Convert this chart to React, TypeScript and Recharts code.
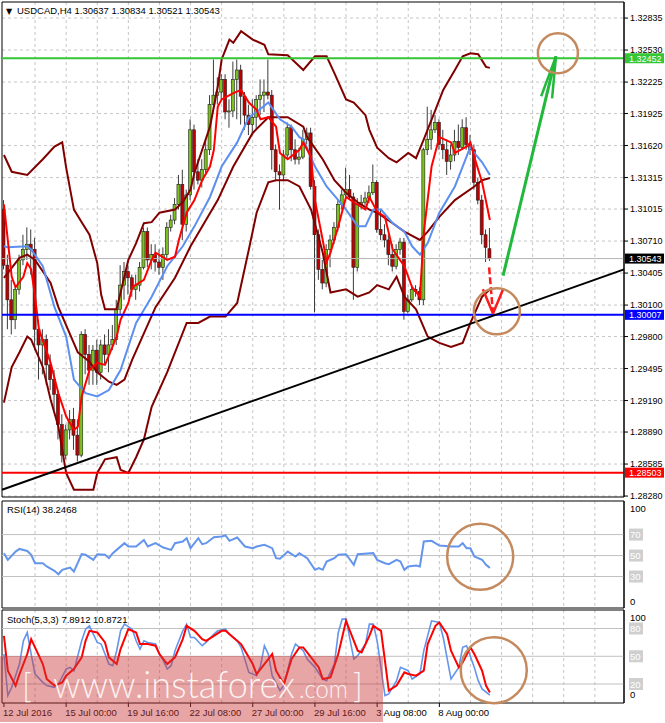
import React from 'react';
import {
  ComposedChart,
  Bar,
  Line,
  XAxis,
  YAxis,
  CartesianGrid,
  ReferenceLine,
  ReferenceDot,
  ReferenceArea,
} from 'recharts';

// ---------- instrument ----------
const symbol = 'USDCAD,H4';

// ---------- candles (bar 0 = 12 Jul 2016 08:00, H4) ----------
const opens = [
  1.3101, 1.3048, 1.3015, 1.2996, 1.3025, 1.3053, 1.3063, 1.3068, 1.3063, 1.2987,
  1.2972, 1.2977, 1.2953, 1.2939, 1.2925, 1.2896, 1.2867, 1.2891, 1.2901, 1.2886,
  1.2867, 1.2982, 1.2963, 1.2948, 1.2967, 1.2946, 1.2972, 1.2963, 1.2972, 1.2977,
  1.3006, 1.3029, 1.3042, 1.3036, 1.3025, 1.3029, 1.3046, 1.308, 1.3053, 1.3058,
  1.3051, 1.3046, 1.3058, 1.3084, 1.3091, 1.3106, 1.3125, 1.3087, 1.3115, 1.3177,
  1.3137, 1.3129, 1.3139, 1.3158, 1.3201, 1.321, 1.3213, 1.3225, 1.3194, 1.3195,
  1.3225, 1.3234, 1.3209, 1.3191, 1.3182, 1.3189, 1.3206, 1.321, 1.3213, 1.321,
  1.3158, 1.3137, 1.3134, 1.3153, 1.3179, 1.3158, 1.3149, 1.3151, 1.3168, 1.3174,
  1.3123, 1.3077, 1.3044, 1.3031, 1.3063, 1.3072, 1.3084, 1.3106, 1.3115, 1.312,
  1.3113, 1.3046, 1.3106, 1.3108, 1.3112, 1.3117, 1.3127, 1.3082, 1.3077, 1.3072,
  1.3058, 1.3047, 1.3063, 1.307, 1.3004, 1.3015, 1.3025, 1.3023, 1.3015, 1.3158,
  1.3168, 1.3177, 1.3184, 1.3163, 1.3158, 1.3147, 1.3153, 1.3166, 1.316, 1.3179,
  1.3163, 1.3158, 1.3127, 1.311, 1.3077, 1.30637,
];
const highs = [
  1.311, 1.3058, 1.3034, 1.3029, 1.3058, 1.3077, 1.3084, 1.3082, 1.3074, 1.2996,
  1.2987, 1.2982, 1.2963, 1.2948, 1.2929, 1.2906, 1.2896, 1.291, 1.2912, 1.2901,
  1.2985, 1.2987, 1.2972, 1.2972, 1.2977, 1.2977, 1.2982, 1.2987, 1.2991, 1.3015,
  1.3048, 1.3051, 1.3048, 1.3039, 1.3039, 1.3051, 1.3084, 1.3084, 1.3068, 1.3068,
  1.3063, 1.3065, 1.3089, 1.3096, 1.3112, 1.3134, 1.3139, 1.312, 1.3187, 1.3182,
  1.3149, 1.3149, 1.3168, 1.321, 1.3244, 1.3227, 1.323, 1.323, 1.3206, 1.3242,
  1.3244, 1.3239, 1.3213, 1.3201, 1.3206, 1.321, 1.3225, 1.3225, 1.3244, 1.3215,
  1.3163, 1.3144, 1.3158, 1.3184, 1.3182, 1.3168, 1.316, 1.3177, 1.3179, 1.3179,
  1.3129, 1.3082, 1.3053, 1.3068, 1.3077, 1.3089, 1.311, 1.312, 1.3141, 1.3134,
  1.3117, 1.3112, 1.3115, 1.3118, 1.3124, 1.3144, 1.3129, 1.3101, 1.3087, 1.3077,
  1.3068, 1.3068, 1.3074, 1.3074, 1.302, 1.3029, 1.3029, 1.3027, 1.316, 1.3199,
  1.3196, 1.3191, 1.3187, 1.3177, 1.3168, 1.3163, 1.3177, 1.3182, 1.3187, 1.3189,
  1.3172, 1.3163, 1.3131, 1.3115, 1.3082, 1.30834,
];
const lows = [
  1.3044, 1.2987, 1.2982, 1.2987, 1.302, 1.3048, 1.3053, 1.3039, 1.2967, 1.2939,
  1.2944, 1.2934, 1.2929, 1.291, 1.2882, 1.286, 1.2863, 1.2882, 1.2872, 1.2861,
  1.2865, 1.2944, 1.2934, 1.2934, 1.2934, 1.2939, 1.2953, 1.2946, 1.2967, 1.2972,
  1.3001, 1.3015, 1.302, 1.3018, 1.3015, 1.3023, 1.3044, 1.3046, 1.3044, 1.3042,
  1.3039, 1.3034, 1.3053, 1.308, 1.3087, 1.3101, 1.3072, 1.308, 1.311, 1.312,
  1.3125, 1.3122, 1.3134, 1.3153, 1.3196, 1.3201, 1.3206, 1.3187, 1.3179, 1.3189,
  1.3187, 1.3182, 1.3177, 1.3172, 1.3172, 1.3177, 1.3191, 1.3194, 1.3206, 1.3139,
  1.3129, 1.3101, 1.3128, 1.315, 1.3147, 1.3144, 1.3144, 1.3149, 1.3163, 1.312,
  1.3003, 1.3034, 1.3025, 1.3027, 1.3046, 1.3068, 1.308, 1.3101, 1.3112, 1.311,
  1.3015, 1.3042, 1.3101, 1.3105, 1.3107, 1.3115, 1.3079, 1.3072, 1.3065, 1.3048,
  1.3042, 1.3044, 1.3058, 1.2996, 1.3002, 1.3013, 1.3018, 1.301, 1.301, 1.3153,
  1.3158, 1.3174, 1.3158, 1.3149, 1.3134, 1.3139, 1.3147, 1.3153, 1.3158, 1.3158,
  1.3153, 1.312, 1.3106, 1.3068, 1.3051, 1.30521,
];
const closes = [
  1.3048, 1.3015, 1.2996, 1.3025, 1.3053, 1.3063, 1.3068, 1.3063, 1.2987, 1.2972,
  1.2977, 1.2953, 1.2939, 1.2925, 1.2896, 1.2867, 1.2891, 1.2901, 1.2886, 1.2867,
  1.2982, 1.2963, 1.2948, 1.2967, 1.2946, 1.2972, 1.2963, 1.2972, 1.2977, 1.3006,
  1.3029, 1.3042, 1.3036, 1.3025, 1.3029, 1.3046, 1.308, 1.3053, 1.3058, 1.3051,
  1.3046, 1.3058, 1.3084, 1.3091, 1.3106, 1.3125, 1.3087, 1.3115, 1.3177, 1.3137,
  1.3129, 1.3139, 1.3158, 1.3201, 1.321, 1.3213, 1.3225, 1.3194, 1.3195, 1.3225,
  1.3234, 1.3209, 1.3191, 1.3182, 1.3189, 1.3206, 1.321, 1.3213, 1.321, 1.3158,
  1.3137, 1.3134, 1.3153, 1.3179, 1.3158, 1.3149, 1.3151, 1.3168, 1.3174, 1.3123,
  1.3077, 1.3044, 1.3031, 1.3063, 1.3072, 1.3084, 1.3106, 1.3115, 1.312, 1.3113,
  1.3046, 1.3106, 1.3108, 1.3112, 1.3117, 1.3127, 1.3082, 1.3077, 1.3072, 1.3058,
  1.3047, 1.3063, 1.307, 1.3004, 1.3015, 1.3025, 1.3023, 1.3015, 1.3158, 1.3168,
  1.3177, 1.3184, 1.3163, 1.3158, 1.3147, 1.3153, 1.3166, 1.316, 1.3179, 1.3163,
  1.3158, 1.3127, 1.311, 1.3077, 1.3065, 1.30543,
];

// ---------- indicator lines, [bar index, value] ----------
const upperBand = [
  [0, 1.3153], [2, 1.3137], [6, 1.3134], [10, 1.3149], [13, 1.3161], [15, 1.3165], [16, 1.3141],
  [18, 1.3101], [20, 1.3089], [22, 1.3077], [24, 1.305], [25, 1.302], [26, 1.3006], [29, 1.3006],
  [30, 1.3022], [32, 1.3053], [34, 1.3069], [36, 1.3088], [38, 1.3089], [40, 1.3098], [44, 1.3101],
  [46, 1.3108], [48, 1.312], [49, 1.3136], [51, 1.3158], [53, 1.318], [55, 1.3218], [56, 1.3244],
  [58, 1.3263], [59, 1.326], [61, 1.3271], [64, 1.3263], [67, 1.3258], [68, 1.3249], [73, 1.3248],
  [77, 1.3234], [80, 1.3247], [83, 1.3247], [85, 1.3231], [88, 1.3206], [90, 1.3203], [93, 1.3191],
  [94, 1.3177], [96, 1.316], [99, 1.315], [101, 1.3146], [104, 1.3155], [106, 1.315], [108, 1.3168],
  [111, 1.3196], [113, 1.3215], [116, 1.3234], [118, 1.3247], [120, 1.325], [122, 1.3249],
  [124, 1.3237], [125, 1.3236],
];
const middleBand = [
  [0, 1.3036], [4, 1.3055], [6, 1.3058], [8, 1.3053], [12, 1.3031], [14, 1.3008], [19, 1.2965],
  [22, 1.2956], [24, 1.2946], [27, 1.2937], [29, 1.2934], [31, 1.2939], [33, 1.2958], [39, 1.3008],
  [44, 1.3036], [48, 1.3066], [55, 1.311], [59, 1.3142], [64, 1.3174], [68, 1.3189], [73, 1.3189],
  [77, 1.318], [78, 1.317], [82, 1.3149], [85, 1.3129], [88, 1.3117], [91, 1.3108], [94, 1.3101],
  [96, 1.3098], [100, 1.3088], [103, 1.308], [107, 1.3072], [109, 1.308], [112, 1.3094],
  [116, 1.311], [121, 1.3123], [123, 1.3129], [125, 1.3131],
];
const lowerBand = [
  [0, 1.2917], [2, 1.2951], [4, 1.2965], [6, 1.298], [7, 1.2977], [10, 1.2951], [12, 1.292],
  [14, 1.2894], [16, 1.285], [18, 1.2834], [23, 1.2834], [24, 1.285], [26, 1.2863], [29, 1.2865],
  [30, 1.2853], [32, 1.285], [34, 1.2865], [36, 1.2882], [38, 1.2913], [42, 1.2946], [47, 1.2993],
  [50, 1.2993], [53, 1.2999], [57, 1.2999], [60, 1.3012], [63, 1.3063], [65, 1.3098], [68, 1.3127],
  [70, 1.3129], [73, 1.3129], [76, 1.3123], [79, 1.3101], [82, 1.306], [84, 1.3022], [88, 1.3025],
  [91, 1.3018], [94, 1.3022], [96, 1.3029], [99, 1.3025], [101, 1.3037], [103, 1.3018],
  [106, 1.3006], [109, 1.298], [112, 1.2974], [115, 1.297], [118, 1.2974], [120, 1.2993],
  [123, 1.3018], [125, 1.3025],
];
const blueMA = [
  [0, 1.3066], [1, 1.3065], [6, 1.3066], [7, 1.3063], [10, 1.3047], [13, 1.3008], [16, 1.298],
  [18, 1.2939], [21, 1.2926], [24, 1.2923], [27, 1.2929], [30, 1.2948], [34, 1.2993], [38, 1.3018],
  [42, 1.3047], [46, 1.3066], [49, 1.3085], [53, 1.3113], [56, 1.3142], [60, 1.3165], [63, 1.3189],
  [65, 1.3194], [68, 1.3203], [71, 1.3187], [74, 1.318], [76, 1.317], [77, 1.3168], [80, 1.3142],
  [83, 1.3123], [86, 1.311], [88, 1.3101], [91, 1.3085], [93, 1.3085], [95, 1.3101], [97, 1.3101],
  [100, 1.3088], [103, 1.308], [105, 1.3066], [107, 1.3058], [109, 1.3069], [112, 1.3098],
  [116, 1.3123], [118, 1.3142], [120, 1.3161], [121, 1.3155], [123, 1.3146], [125, 1.3134],
];
const redMA = [
  [0, 1.3106], [2, 1.3037], [3, 1.3027], [5, 1.3037], [6, 1.305], [7, 1.3044], [8, 1.3018],
  [9, 1.2987], [12, 1.2955], [14, 1.2926], [16, 1.2904], [18, 1.2891], [19, 1.2894], [20, 1.2923],
  [22, 1.2948], [24, 1.2955], [26, 1.2953], [29, 1.298], [30, 1.2996], [32, 1.3012], [33, 1.3027],
  [36, 1.3034], [38, 1.3053], [39, 1.306], [42, 1.3053], [44, 1.3056], [45, 1.3072], [47, 1.3098],
  [49, 1.311], [51, 1.3129], [53, 1.3142], [54, 1.3158], [55, 1.3199], [56, 1.3206], [59, 1.3212],
  [61, 1.3215], [63, 1.3203], [65, 1.3196], [66, 1.3187], [68, 1.3189], [70, 1.318], [71, 1.3155],
  [73, 1.3149], [76, 1.3158], [77, 1.3165], [79, 1.3151], [80, 1.311], [82, 1.3072], [83, 1.3051],
  [84, 1.306], [86, 1.3085], [88, 1.3113], [90, 1.3108], [93, 1.3101], [94, 1.3113], [96, 1.3099],
  [98, 1.3094], [100, 1.3063], [103, 1.3047], [105, 1.3027], [107, 1.3018], [108, 1.3079],
  [110, 1.3142], [112, 1.317], [115, 1.3165], [116, 1.3155], [119, 1.3161], [120, 1.3165],
  [121, 1.3151], [123, 1.3127], [125, 1.3091],
];

// ---------- horizontal levels ----------
const levelGreen = 1.32452;
const levelBlue = 1.30007;
const levelRed = 1.28503;
const trendLine = [
  [-0.5, 1.2834],
  [159.5, 1.3044],
];

// ---------- annotations ----------
const greenArrow = [[128.4, 1.3038], [142, 1.3247]];
const greenArrowHeadA = [[138.2, 1.3209], [142, 1.3247]];
const greenArrowHeadB = [[141.0, 1.3207], [142, 1.3247]];
const redArrow = [[124.8, 1.3046], [125.8, 1.3002]];
const redArrowHeadA = [[123.2, 1.3025], [125.8, 1.3002]];
const redArrowHeadB = [[128.4, 1.3025], [125.8, 1.3002]];
const circleMain = [126.8, 1.3004];
const circleTop = [142.5, 1.325];
const circleRsi = [122.5, 48.8];
const circleStoch = [126, 35];

// ---------- RSI(14) ----------
const rsi = [
  [0, 52.3], [1, 45.9], [3, 53.8], [4, 56.3], [6, 54.4], [7, 50.7], [8, 42.7], [10, 42.7], [11, 39.6],
  [13, 35.4], [14, 32.2], [15, 36.4], [17, 38.6], [18, 34.8], [20, 51.3], [21, 50.7], [23, 45.9],
  [24, 51.3], [26, 50.7], [27, 47.5], [28, 52.3], [29, 55.4], [31, 61.8], [32, 58.6], [34, 58.6],
  [36, 64.9], [37, 58.6], [39, 61.8], [41, 57.6], [43, 55.4], [44, 61.8], [46, 63.4], [47, 66.5],
  [48, 57.0], [50, 66.5], [51, 60.8], [52, 61.8], [54, 67.5], [56, 68.1], [57, 69.1], [58, 64.0],
  [60, 67.2], [62, 58.6], [64, 57.0], [65, 58.6], [67, 60.2], [69, 57.0], [70, 47.5], [71, 46.9],
  [73, 53.8], [75, 49.1], [76, 52.3], [78, 47.5], [80, 36.4], [81, 38.0], [82, 36.4], [83, 44.3],
  [85, 47.5], [86, 50.7], [88, 51.3], [90, 41.1], [91, 51.3], [95, 52.3], [96, 45.9], [98, 42.7],
  [99, 41.8], [101, 45.9], [102, 44.3], [103, 36.4], [104, 39.6], [106, 40.5], [107, 39.6],
  [108, 63.4], [110, 64.0], [112, 59.5], [115, 58.6], [117, 58.6], [118, 61.8], [119, 57.0],
  [120, 57.0], [121, 49.1], [123, 46.0], [124, 41.1], [125, 38.2468],
];
const rsiTicks = [0, 30, 50, 70, 100];
const rsiLevels = [30, 50, 70];

// ---------- Stochastic(5,3,3) ----------
const stochMain = [
  [0, 52.4], [1, 7.5], [2, 16.5], [4, 41.6], [5, 66.7], [6, 75.7], [7, 52.4], [8, 30.8], [10, 21.8],
  [11, 18.3], [13, 16.5], [14, 20.0], [16, 36.2], [17, 38.0], [18, 34.4], [20, 66.7], [21, 79.3],
  [22, 82.9], [23, 73.9], [24, 64.9], [25, 63.2], [26, 52.4], [27, 41.6], [28, 39.8], [29, 56.0],
  [30, 77.5], [31, 84.7], [33, 79.3], [34, 66.7], [35, 57.8], [36, 66.7], [37, 64.9], [39, 63.2],
  [40, 52.4], [41, 45.2], [42, 36.2], [43, 39.8], [44, 56.0], [46, 77.5], [47, 84.7], [48, 70.3],
  [49, 70.3], [51, 61.4], [52, 64.9], [54, 73.9], [55, 77.5], [57, 79.3], [58, 73.9], [60, 66.7],
  [61, 59.6], [63, 32.6], [65, 29.0], [66, 39.8], [67, 61.4], [68, 52.4], [69, 29.0], [71, 12.9],
  [72, 18.3], [74, 52.4], [75, 63.2], [77, 56.0], [78, 47.0], [80, 38.0], [82, 25.4], [83, 23.6],
  [85, 41.6], [86, 75.7], [87, 90.1], [88, 90.1], [90, 47.0], [91, 50.6], [93, 63.2], [94, 84.7],
  [95, 84.7], [96, 66.7], [98, 7.5], [99, 9.3], [101, 23.6], [102, 38.0], [104, 34.4], [105, 25.4],
  [107, 30.8], [108, 56.0], [110, 88.3], [112, 86.5], [113, 70.3], [115, 25.4], [117, 38.0],
  [118, 59.6], [119, 61.4], [121, 38.0], [122, 23.6], [123, 14.7], [125, 7.8912],
];
const stochSignal = [
  [0, 72.1], [1, 34.4], [3, 18.3], [4, 30.8], [6, 52.4], [7, 68.5], [8, 59.6], [10, 41.6], [11, 25.4],
  [13, 18.3], [15, 21.8], [16, 29.0], [18, 36.2], [20, 48.8], [21, 66.7], [22, 77.5], [24, 75.7],
  [26, 64.9], [27, 48.8], [29, 41.6], [30, 57.8], [32, 79.3], [34, 75.7], [35, 63.2], [37, 63.2],
  [39, 61.4], [40, 52.4], [42, 41.6], [44, 48.8], [46, 68.5], [47, 82.9], [49, 77.5], [51, 68.5],
  [52, 66.7], [54, 72.1], [56, 77.5], [57, 77.5], [59, 70.3], [61, 63.2], [62, 56.0], [64, 41.6],
  [65, 30.8], [67, 41.6], [69, 52.4], [70, 34.4], [72, 20.0], [74, 47.0], [76, 59.6], [77, 59.6],
  [79, 48.8], [81, 38.0], [82, 25.4], [84, 27.2], [86, 52.4], [88, 88.3], [89, 77.5], [91, 56.0],
  [92, 54.2], [94, 72.1], [95, 82.9], [97, 77.5], [98, 45.2], [99, 12.9], [101, 18.3], [103, 32.6],
  [104, 30.8], [106, 29.0], [108, 34.4], [109, 63.2], [111, 82.9], [112, 86.5], [114, 73.9],
  [115, 56.0], [117, 38.0], [118, 43.4], [120, 59.6], [121, 52.4], [123, 34.4], [124, 18.3],
  [125, 10.8721],
];
const stochTicks = [0, 20, 50, 80, 100];
const stochLevels = [20, 50, 80];

// ---------- axes ----------
const priceTicks = [
  1.32835, 1.3253, 1.32225, 1.31925, 1.3162, 1.31315, 1.31015, 1.3071, 1.30405, 1.301, 1.298,
  1.29495, 1.2919, 1.2889, 1.28585, 1.2828,
];
const gridIdx = [8, 16, 24, 32, 40, 48, 56, 64, 72, 80, 88, 96, 104, 112, 120, 128, 136, 144, 152];
const dateTickIdx = [0, 16, 32, 48, 64, 80, 96, 112];
const dateLabels = [
  '12 Jul 2016', '15 Jul 00:00', '19 Jul 16:00', '22 Jul 08:00',
  '27 Jul 00:00', '29 Jul 16:00', '3 Aug 08:00', '8 Aug 00:00',
];

// ---------- styling ----------
const FONT = '"Liberation Sans", Arial, sans-serif';
const W = 665;
const AXIS_W = 41;
const X_DOMAIN: [number, number] = [-0.5, 159.5];
const PRICE_DOMAIN: [number, number] = [1.28271, 1.32988];
const RSI_DOMAIN: [number, number] = [0, 102];
const STOCH_DOMAIN: [number, number] = [-0.5, 100];
const CIRCLE = '#c48a5e';

const toRows = (pts: number[][]) => pts.map(([i, v]) => ({ i, v }));
const seg = (pts: number[][]) => pts.map(([x, y]) => ({ x, y }));

const candleRows = opens.map((o, i) => ({
  i,
  o,
  h: highs[i],
  l: lows[i],
  c: closes[i],
  range: [lows[i], highs[i]],
}));

function Candle(props: any) {
  const { x, y, width, height, payload } = props;
  if (!payload || x == null || y == null) return null;
  const { o, c, h, l } = payload;
  const topY = Math.min(y, y + height);
  const botY = Math.max(y, y + height);
  const span = h - l || 1e-9;
  const toY = (v: number) => topY + ((h - v) / span) * (botY - topY);
  const cx = x + width / 2;
  const yo = toY(o);
  const yc = toY(c);
  const bt = Math.min(yo, yc);
  const bh = Math.max(1, Math.abs(yc - yo));
  const bull = c >= o;
  return (
    <g>
      <line x1={cx} x2={cx} y1={topY} y2={botY} stroke="#3c3c3c" strokeWidth={1} />
      <rect x={x} y={bt} width={width} height={bh} fill={bull ? '#7cc21c' : '#c00000'} stroke="#1e1e1e" strokeWidth={0.6} />
    </g>
  );
}

function PriceTag(props: any) {
  const { viewBox, text, bg } = props;
  if (!viewBox) return null;
  const x = viewBox.x + viewBox.width + 1;
  const y = viewBox.y;
  return (
    <g>
      <rect x={x} y={y - 5} width={39} height={10} fill={bg} />
      <text x={x + 4} y={y + 3.3} fontSize={9} fontFamily={FONT} fill="#ffffff">
        {text}
      </text>
    </g>
  );
}

function PriceTick(props: any) {
  const { x, y, payload } = props;
  return (
    <text x={x} y={y + 3.3} fontSize={9} fontFamily={FONT} fill="#000" textAnchor="start">
      {Number(payload.value).toFixed(5)}
    </text>
  );
}

function makeLevelTick(topV: number, topShift: number, botShift: number, boxed: number[]) {
  return function LevelTick(props: any) {
    const { x, y, payload } = props;
    const v = payload.value;
    const shift = v === topV ? topShift : v === 0 ? botShift : 0;
    if (boxed.includes(v)) {
      return (
        <g>
          <rect x={x - 1} y={y - 6} width={14} height={12} fill="#cfcfcf" />
          <text x={x} y={y + 3.5} fontSize={9.5} fontFamily={FONT} fill="#ffffff">
            {v}
          </text>
        </g>
      );
    }
    return (
      <text x={x} y={y + 3.5 + shift} fontSize={9.5} fontFamily={FONT} fill="#000">
        {v}
      </text>
    );
  };
}
const RsiTick = makeLevelTick(100, 5, -7, rsiLevels);
const StochTick = makeLevelTick(100, 7, -8, stochLevels);

function DateTick(props: any) {
  const { x, y, payload } = props;
  const k = dateTickIdx.indexOf(payload.value);
  return (
    <text x={x - 1} y={y + 7} fontSize={9.5} fontFamily={FONT} fill="#000" textAnchor="start">
      {k >= 0 ? dateLabels[k] : ''}
    </text>
  );
}

const gridStroke = '#c6c6c6';

export default function App() {
  const last = opens.length - 1;
  const header = `${symbol}  ${opens[last].toFixed(5)} ${highs[last].toFixed(5)} ${lows[last].toFixed(5)} ${closes[last].toFixed(5)}`;
  const rsiLast = rsi[rsi.length - 1][1];
  const kLast = stochMain[stochMain.length - 1][1];
  const dLast = stochSignal[stochSignal.length - 1][1];

  return (
    <div style={{ position: 'absolute', left: 0, top: 0, width: W, height: 723, background: '#fff', overflow: 'hidden' }}>
      {/* main price panel */}
      <div style={{ position: 'absolute', left: 0, top: 0 }}>
        <ComposedChart width={W} height={506} data={candleRows} margin={{ top: 2, right: 0, bottom: 9, left: 2 }}>
          <CartesianGrid stroke={gridStroke} strokeDasharray="3 3" verticalValues={gridIdx} horizontalValues={priceTicks} />
          <XAxis type="number" dataKey="i" domain={X_DOMAIN} allowDataOverflow hide ticks={gridIdx} />
          <YAxis
            orientation="right"
            width={AXIS_W}
            type="number"
            domain={PRICE_DOMAIN}
            allowDataOverflow
            ticks={priceTicks}
            interval={0}
            tick={<PriceTick />}
            tickSize={4}
            axisLine={{ stroke: '#000' }}
            tickLine={{ stroke: '#000' }}
          />
          <ReferenceArea x1={X_DOMAIN[0]} x2={X_DOMAIN[1]} y1={PRICE_DOMAIN[0]} y2={PRICE_DOMAIN[1]} fill="none" stroke="#000" strokeWidth={1} />
          <ReferenceLine y={closes[last]} stroke="#b4b4b4" strokeWidth={1} label={<PriceTag text={closes[last].toFixed(5)} bg="#000000" />} />
          <Bar dataKey="range" barSize={3} isAnimationActive={false} shape={(p: any) => <Candle {...p} />} />
          <Line data={toRows(upperBand)} dataKey="v" type="linear" stroke="#800000" strokeWidth={2} dot={false} isAnimationActive={false} />
          <Line data={toRows(middleBand)} dataKey="v" type="linear" stroke="#800000" strokeWidth={2} dot={false} isAnimationActive={false} />
          <Line data={toRows(lowerBand)} dataKey="v" type="linear" stroke="#800000" strokeWidth={2} dot={false} isAnimationActive={false} />
          <Line data={toRows(blueMA)} dataKey="v" type="linear" stroke="#5b8ff0" strokeWidth={2} dot={false} isAnimationActive={false} />
          <Line data={toRows(redMA)} dataKey="v" type="linear" stroke="#ff0000" strokeWidth={2} dot={false} isAnimationActive={false} />
          <ReferenceLine y={levelGreen} stroke="#34c634" strokeWidth={2} label={<PriceTag text={levelGreen.toFixed(5)} bg="#34c634" />} />
          <ReferenceLine y={levelBlue} stroke="#0000ff" strokeWidth={2} label={<PriceTag text={levelBlue.toFixed(5)} bg="#0000ff" />} />
          <ReferenceLine y={levelRed} stroke="#ff0000" strokeWidth={2} label={<PriceTag text={levelRed.toFixed(5)} bg="#ff0000" />} />
          <ReferenceLine segment={seg(trendLine)} stroke="#000" strokeWidth={2} />
          <ReferenceLine segment={seg(greenArrow)} stroke="#22b83c" strokeWidth={3} />
          <ReferenceLine segment={seg(greenArrowHeadA)} stroke="#22b83c" strokeWidth={2.5} />
          <ReferenceLine segment={seg(greenArrowHeadB)} stroke="#22b83c" strokeWidth={2.5} />
          <ReferenceLine segment={seg(redArrow)} stroke="#ff1a1a" strokeWidth={2.5} strokeDasharray="7 3" />
          <ReferenceLine segment={seg(redArrowHeadA)} stroke="#ff1a1a" strokeWidth={2.5} />
          <ReferenceLine segment={seg(redArrowHeadB)} stroke="#ff1a1a" strokeWidth={2.5} />
          <ReferenceDot x={circleMain[0]} y={circleMain[1]} r={23} fill="none" stroke={CIRCLE} strokeWidth={2.5} />
          <ReferenceDot x={circleTop[0]} y={circleTop[1]} r={20} fill="none" stroke={CIRCLE} strokeWidth={2.5} />
        </ComposedChart>
      </div>

      {/* RSI panel */}
      <div style={{ position: 'absolute', left: 0, top: 499 }}>
        <ComposedChart width={W} height={110} data={toRows(rsi)} margin={{ top: 2, right: 0, bottom: 1, left: 2 }}>
          <CartesianGrid stroke={gridStroke} strokeDasharray="3 3" horizontal={false} verticalValues={gridIdx} />
          <XAxis type="number" dataKey="i" domain={X_DOMAIN} allowDataOverflow hide ticks={gridIdx} />
          <YAxis
            orientation="right"
            width={AXIS_W}
            type="number"
            domain={RSI_DOMAIN}
            allowDataOverflow
            ticks={rsiTicks}
            interval={0}
            tick={<RsiTick />}
            tickSize={0}
            tickMargin={6}
            axisLine={{ stroke: '#000' }}
          />
          <ReferenceArea x1={X_DOMAIN[0]} x2={X_DOMAIN[1]} y1={RSI_DOMAIN[0]} y2={RSI_DOMAIN[1]} fill="none" stroke="#000" strokeWidth={1} />
          {rsiLevels.map((lv) => (
            <ReferenceLine key={lv} y={lv} stroke="#c0c0c0" strokeWidth={1} />
          ))}
          <Line dataKey="v" type="linear" stroke="#6495ed" strokeWidth={2} dot={false} isAnimationActive={false} />
          <ReferenceDot x={circleRsi[0]} y={circleRsi[1]} r={33} fill="none" stroke={CIRCLE} strokeWidth={2.5} />
        </ComposedChart>
      </div>

      {/* Stochastic panel */}
      <div style={{ position: 'absolute', left: 0, top: 609 }}>
        <ComposedChart width={W} height={114} data={toRows(stochMain)} margin={{ top: 1, right: 0, bottom: 0, left: 2 }}>
          <CartesianGrid stroke={gridStroke} strokeDasharray="3 3" horizontal={false} verticalValues={gridIdx} />
          <XAxis
            type="number"
            dataKey="i"
            domain={X_DOMAIN}
            allowDataOverflow
            ticks={dateTickIdx}
            interval={0}
            height={20}
            axisLine={false}
            tickLine={{ stroke: '#000' }}
            tickSize={4}
            tick={<DateTick />}
          />
          <YAxis
            orientation="right"
            width={AXIS_W}
            type="number"
            domain={STOCH_DOMAIN}
            allowDataOverflow
            ticks={stochTicks}
            interval={0}
            tick={<StochTick />}
            tickSize={0}
            tickMargin={6}
            axisLine={{ stroke: '#000' }}
          />
          <ReferenceArea x1={X_DOMAIN[0]} x2={X_DOMAIN[1]} y1={STOCH_DOMAIN[0]} y2={STOCH_DOMAIN[1]} fill="none" stroke="#000" strokeWidth={1} />
          {stochLevels.map((lv) => (
            <ReferenceLine key={lv} y={lv} stroke="#c0c0c0" strokeWidth={1} />
          ))}
          <Line dataKey="v" type="linear" stroke="#6495ed" strokeWidth={1.6} dot={false} isAnimationActive={false} />
          <Line data={toRows(stochSignal)} dataKey="v" type="linear" stroke="#ff0000" strokeWidth={2} dot={false} isAnimationActive={false} />
          <ReferenceDot x={circleStoch[0]} y={circleStoch[1]} r={33} fill="none" stroke={CIRCLE} strokeWidth={2.5} />
        </ComposedChart>
      </div>

      {/* titles and watermark */}
      <svg width={W} height={723} style={{ position: 'absolute', left: 0, top: 0, pointerEvents: 'none' }}>
        <text x={6} y={14} fontSize={8} fontFamily='"DejaVu Sans", sans-serif' fill="#000">▼</text>
        <text x={17} y={14} fontSize={9.5} fontFamily={FONT} fill="#000">{header}</text>
        <text x={7} y={513} fontSize={9.5} fontFamily={FONT} fill="#000">{`RSI(14) ${rsiLast.toFixed(4)}`}</text>
        <text x={7} y={623} fontSize={9.5} fontFamily={FONT} fill="#000">{`Stoch(5,3,3) ${kLast.toFixed(4)} ${dLast.toFixed(4)}`}</text>
        <rect x={0} y={656} width={383} height={66} fill="rgba(205,55,55,0.45)" />
        <text x={22} y={698} fill="#ffffff" fillOpacity={0.88} fontFamily="Lato, 'Open Sans', sans-serif" fontWeight={300}>
          <tspan fontSize={33}>[</tspan>
          <tspan x={53} fontSize={37} textLength={242} lengthAdjust="spacingAndGlyphs">www.instaforex</tspan>
          <tspan x={299} fontSize={25} textLength={49} lengthAdjust="spacingAndGlyphs">.com</tspan>
          <tspan x={353} fontSize={33}>]</tspan>
        </text>
      </svg>
    </div>
  );
}
